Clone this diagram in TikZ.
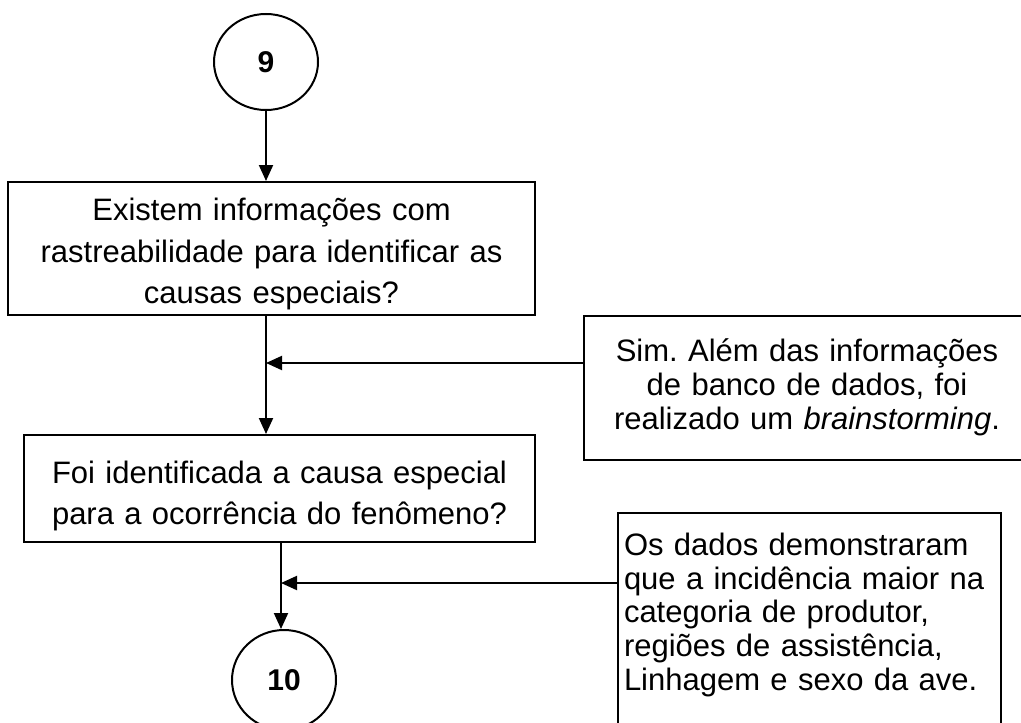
\documentclass[tikz,border=0pt]{standalone}
\usepackage{fontspec}
\setmainfont{Liberation Sans}
\frenchspacing
\usetikzlibrary{shapes.geometric,arrows.meta}

\tikzset{
  conn/.style={draw, line width=1pt, ellipse, minimum width=52pt, minimum height=48pt, inner sep=0pt, font=\fontsize{15}{17}\selectfont\bfseries},
  qbox/.style={draw, line width=1pt, align=center, inner sep=0pt, font=\fontsize{15.5}{20.75}\selectfont},
  ansbox/.style={draw, line width=1pt, inner sep=0pt, font=\fontsize{15.5}{16.9}\selectfont},
  arr/.style={line width=1pt, -{Triangle[length=8pt,width=7pt]}},
}

\begin{document}
\begin{tikzpicture}[x=0.5pt, y=-0.5pt]
  \useasboundingbox (0,0) rectangle (1021,722);
  \clip (0,0) rectangle (1021,722);
  \node[conn] (c9) at (266,62) {9};
  \node[qbox, text width=263.5pt, minimum height=66.5pt, text height=16.5pt, text depth=44.25pt] (q1) at (271.5,248.5)
    {Existem informações com\\rastreabilidade para identificar as\\causas especiais?};
  \node[qbox, text width=255.5pt, minimum height=53.5pt, text height=18.75pt, text depth=24.25pt] (q2) at (279.5,488.5)
    {Foi identificada a causa especial\\para a ocorrência do fenômeno?};
  \node[ansbox, align=center, text width=223pt, minimum height=72pt, text height=10.25pt, text depth=36.55pt] (a1) at (807,388)
    {Sim. Além das informações\\de banco de dados, foi\\realizado um \textit{brainstorming}.};
  \node[ansbox, align=left, anchor=north west, text width=185.5pt, inner xsep=3pt, text height=21.15pt, text depth=100pt] (a2) at (617,512)
    {Os dados demonstraram\\que a incidência maior na\\categoria de produtor,\\regiões de assistência,\\Linhagem e sexo da ave.};
  \node[conn, minimum height=50pt] (c10) at (284,680) {10};
  \coordinate (j1) at (266,363);
  \coordinate (j2) at (281,583);
  % main flow
  \draw[arr] (c9.south) -- (c9.south |- q1.north);
  \draw[arr] (c9.south |- q1.south) -- (c9.south |- q2.north);
  \draw[arr] (j2 |- q2.south) -- (j2 |- c10.north);
  % answers
  \draw[arr] (a1.west |- j1) -- (j1);
  \draw[arr] (a2.west |- j2) -- (j2);
\end{tikzpicture}
\end{document}
